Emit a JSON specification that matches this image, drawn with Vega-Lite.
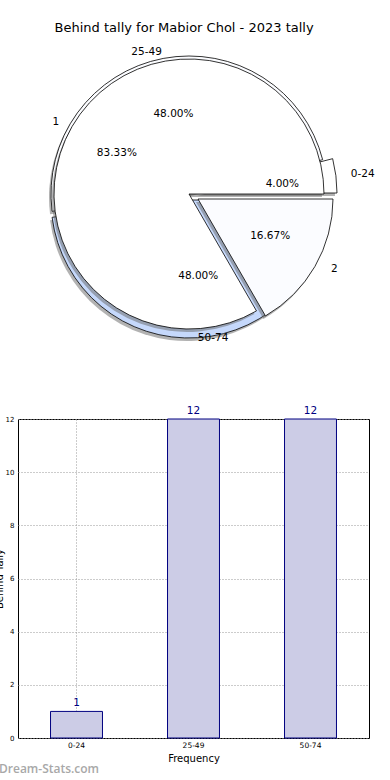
{
  "$schema": "https://vega.github.io/schema/vega-lite/v6.json",
  "padding": {"left": -7, "top": 21, "right": 0, "bottom": 0},
  "bounds": "flush",
  "spacing": 82,
  "title": {"text": "Behind tally for Mabior Chol - 2023 tally", "fontSize": 13, "font": "DejaVu Sans", "fontWeight": "normal", "color": "black", "anchor": "middle", "offset": 12},
  "datasets": {
    "outer": [
      {"label": "0-24", "count": 1, "share": 0.04},
      {"label": "25-49", "count": 12, "share": 0.48},
      {"label": "50-74", "count": 12, "share": 0.48}
    ],
    "inner": [
      {"label": "1", "share": 0.8333},
      {"label": "2", "share": 0.1667}
    ]
  },
  "vconcat": [
    {
      "width": 342,
      "height": 286,
      "view": {"stroke": null},
      "layer": [
        {
          "data": {"name": "outer"},
          "mark": {"type": "arc", "radius": 138, "fill": "#666", "opacity": 0.5,
            "xOffset": {"expr": "(datum.label == '0-24' ? 10 : 0) - 2"},
            "yOffset": {"expr": "(datum.label == '50-74' ? 6 : datum.label == '0-24' ? -1 : 0) + 3"}},
          "encoding": {
            "theta": {"field": "share", "type": "quantitative", "stack": true, "scale": {"domain": [0, 1], "range": [1.5707963, -4.712389]}},
            "order": {"field": "label", "type": "ordinal", "sort": "ascending"}
          }
        },
        {
          "data": {"name": "outer"},
          "mark": {"type": "arc", "radius": 138, "stroke": "black", "strokeWidth": 0.8,
            "xOffset": {"expr": "datum.label == '0-24' ? 10 : 0"},
            "yOffset": {"expr": "datum.label == '50-74' ? 6 : datum.label == '0-24' ? -1 : 0"}},
          "encoding": {
            "theta": {"field": "share", "type": "quantitative", "stack": true},
            "order": {"field": "label", "type": "ordinal", "sort": "ascending"},
            "color": {"field": "label", "type": "nominal", "scale": {"domain": ["0-24", "25-49", "50-74"], "range": ["#ffffff", "#fbfcff", "#c5d8fb"]}, "legend": null}
          }
        },
        {
          "data": {"name": "inner"},
          "mark": {"type": "arc", "radius": 135, "fill": "#666", "opacity": 0.5,
            "xOffset": {"expr": "(datum.label == '2' ? 9 : 0) - 2"},
            "yOffset": {"expr": "(datum.label == '2' ? 5 : 0) + 3"}},
          "encoding": {
            "theta": {"field": "share", "type": "quantitative", "stack": true},
            "order": {"field": "label", "type": "ordinal", "sort": "ascending"}
          }
        },
        {
          "data": {"name": "inner"},
          "mark": {"type": "arc", "radius": 135, "stroke": "black", "strokeWidth": 0.8,
            "xOffset": {"expr": "datum.label == '2' ? 9 : 0"},
            "yOffset": {"expr": "datum.label == '2' ? 5 : 0"}},
          "encoding": {
            "theta": {"field": "share", "type": "quantitative", "stack": true},
            "order": {"field": "label", "type": "ordinal", "sort": "ascending"},
            "color": {"field": "label", "type": "nominal", "scale": {"domain": ["1", "2"], "range": ["#ffffff", "#e8effc"]}, "legend": null}
          }
        },
        {
          "data": {"name": "outer"},
          "mark": {"type": "text", "fontSize": 10.5, "color": "black", "baseline": "middle",
            "radius": {"expr": "datum.label == '0-24' ? 153 : datum.label == '25-49' ? 145 : 141"},
            "align": {"expr": "datum.label == '25-49' ? 'right' : 'left'"},
            "xOffset": {"expr": "datum.label == '0-24' ? 10 : 0"},
            "yOffset": {"expr": "datum.label == '50-74' ? 3 : datum.label == '0-24' ? -1 : 0"}},
          "encoding": {
            "theta": {"field": "share", "type": "quantitative", "stack": true},
            "order": {"field": "label", "type": "ordinal", "sort": "ascending"},
            "text": {"field": "label"}
          }
        },
        {
          "data": {"name": "outer"},
          "mark": {"type": "text", "fontSize": 10.5, "color": "black", "baseline": "middle", "align": "center", "radius": 83,
            "xOffset": {"expr": "datum.label == '0-24' ? 11 : datum.label == '50-74' ? 4 : 0"},
            "yOffset": {"expr": "datum.label == '50-74' ? -1 : datum.label == '0-24' ? 0 : 2"}},
          "encoding": {
            "theta": {"field": "share", "type": "quantitative", "stack": true},
            "order": {"field": "label", "type": "ordinal", "sort": "ascending"},
            "text": {"field": "share", "type": "quantitative", "format": ".2%"}
          }
        },
        {
          "data": {"name": "inner"},
          "mark": {"type": "text", "fontSize": 10.5, "color": "black", "baseline": "middle", "radius": 150,
            "align": {"expr": "datum.label == '1' ? 'right' : 'left'"},
            "xOffset": {"expr": "datum.label == '2' ? 12 : 0"},
            "yOffset": {"expr": "datum.label == '2' ? 0 : 3"}},
          "encoding": {
            "theta": {"field": "share", "type": "quantitative", "stack": true},
            "order": {"field": "label", "type": "ordinal", "sort": "ascending"},
            "text": {"field": "label"}
          }
        },
        {
          "data": {"name": "inner"},
          "mark": {"type": "text", "fontSize": 10.5, "color": "black", "baseline": "middle", "align": "center", "radius": 81,
            "xOffset": {"expr": "datum.label == '2' ? 11 : -2"},
            "yOffset": {"expr": "datum.label == '2' ? 1 : 0"}},
          "encoding": {
            "theta": {"field": "share", "type": "quantitative", "stack": true},
            "order": {"field": "label", "type": "ordinal", "sort": "ascending"},
            "text": {"field": "share", "type": "quantitative", "format": ".2%"}
          }
        }
      ]
    },
    {
      "width": 351,
      "height": 319,
      "data": {"name": "outer"},
      "title": {"text": "Dream-Stats.com", "orient": "bottom", "anchor": "start", "frame": "group", "dx": -19, "offset": 0, "font": "Open Sans", "fontSize": 12, "fontWeight": 600, "color": "#a8a8a8"},
      "encoding": {
        "x": {"field": "label", "type": "nominal", "sort": null, "scale": {"paddingInner": 0.556, "paddingOuter": 0.278},
          "axis": {"title": "Frequency", "labelAngle": 0, "labelFontSize": 7.5, "titleFontSize": 10, "titleFontWeight": "normal", "titlePadding": 5, "labelPadding": 3, "ticks": false, "domain": false, "grid": true, "gridDash": [1, 2], "gridColor": "#999999"}},
        "y": {"field": "count", "type": "quantitative", "scale": {"domain": [0, 12], "nice": false},
          "axis": {"title": "Behind Tally", "values": [0, 2, 4, 6, 8, 10, 12], "labelFontSize": 7, "titleFontSize": 10, "titleFontWeight": "normal", "titlePadding": 1, "labelPadding": 4, "ticks": false, "domain": false, "grid": true, "gridDash": [1, 2], "gridColor": "#999999"}}
      },
      "layer": [
        {"mark": {"type": "bar", "fill": "#ccccE6", "stroke": "#000080", "strokeWidth": 1}},
        {"mark": {"type": "text", "baseline": "bottom", "dy": -3, "color": "#000080", "fontSize": 10.5},
         "encoding": {"text": {"field": "count", "type": "quantitative"}}}
      ]
    }
  ],
  "config": {
    "font": "DejaVu Sans",
    "view": {"stroke": "black", "strokeWidth": 1},
    "axis": {"labelColor": "black", "titleColor": "black"}
  }
}
